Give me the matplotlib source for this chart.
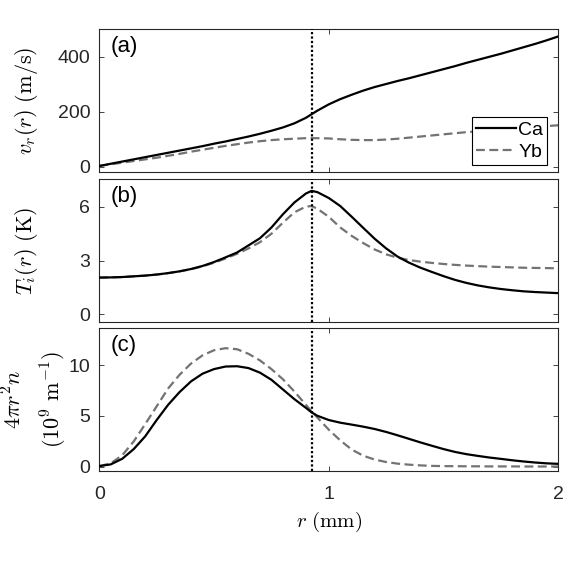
import numpy as np
import matplotlib.pyplot as plt

plt.rcParams['font.family'] = ['Liberation Sans', 'DejaVu Sans']
plt.rcParams['mathtext.fontset'] = 'cm'

# === 数据 ===
r = [0.0, 0.05, 0.1, 0.15, 0.2, 0.25, 0.3, 0.35, 0.4, 0.45, 0.5, 0.55, 0.6, 0.65,
     0.7, 0.75, 0.8, 0.85, 0.9, 0.925, 0.95, 1.0, 1.05, 1.1, 1.15, 1.2, 1.25, 1.3,
     1.35, 1.4, 1.45, 1.5, 1.55, 1.6, 1.65, 1.7, 1.75, 1.8, 1.85, 1.9, 1.95, 2.0]

v_ca = [3, 11, 19, 27, 35, 43, 51, 59, 67, 75, 84, 92, 101, 110,
        120, 131, 143, 158, 178, 191, 204, 227, 246, 262, 277, 290, 301, 312,
        322, 333, 344, 355, 366, 378, 389, 400, 411, 423, 435, 447, 460, 474]
v_yb = [3, 9, 15, 21, 27, 33, 40, 47, 55, 62, 69, 76, 82, 88,
        93, 97, 100, 102, 104, 104, 104, 103, 100, 98, 97, 97, 99, 102,
        106, 110, 114, 118, 122, 126, 129, 133, 136, 139, 142, 145, 148, 151]

t_ca = [2.05, 2.06, 2.08, 2.12, 2.16, 2.22, 2.3, 2.4, 2.53, 2.7, 2.92, 3.18, 3.45, 3.85,
        4.25, 4.85, 5.59, 6.25, 6.75, 6.9, 6.83, 6.5, 6.05, 5.45, 4.83, 4.22, 3.68, 3.22,
        2.88, 2.6, 2.36, 2.13, 1.92, 1.75, 1.61, 1.5, 1.41, 1.34, 1.28, 1.24, 1.21, 1.18]
t_yb = [2.05, 2.06, 2.08, 2.12, 2.16, 2.22, 2.3, 2.4, 2.52, 2.68, 2.88, 3.12, 3.38, 3.68,
        4.03, 4.5, 5.12, 5.7, 6.02, 6.05, 5.9, 5.45, 4.85, 4.38, 3.98, 3.62, 3.35, 3.16,
        3.03, 2.94, 2.87, 2.81, 2.76, 2.72, 2.69, 2.66, 2.64, 2.62, 2.6, 2.59, 2.58, 2.57]

n_ca = [0.08, 0.25, 0.8, 1.75, 3.0, 4.6, 6.1, 7.35, 8.4, 9.15, 9.6, 9.85, 9.88, 9.7,
        9.25, 8.55, 7.6, 6.65, 5.8, 5.35, 5.02, 4.6, 4.34, 4.15, 3.95, 3.72, 3.43, 3.1,
        2.75, 2.4, 2.07, 1.75, 1.47, 1.25, 1.08, 0.92, 0.79, 0.65, 0.53, 0.43, 0.35, 0.3]
n_yb = [0.08, 0.35, 1.15, 2.5, 4.2, 5.95, 7.7, 9.05, 10.15, 10.95, 11.45, 11.65, 11.55, 11.1,
        10.45, 9.6, 8.6, 7.4, 6.1, 5.45, 4.85, 3.65, 2.6, 1.7, 1.1, 0.72, 0.48, 0.32,
        0.22, 0.15, 0.1, 0.08, 0.07, 0.06, 0.06, 0.05, 0.05, 0.05, 0.04, 0.04, 0.04, 0.04]

r_mark = 0.928
series_labels = ['Ca', 'Yb']
panel_tags = ['(a)', '(b)', '(c)']
y_labels = [r'$v_r(r)\ \mathrm{(m/s)}$',
            r'$T_i(r)\ \mathrm{(K)}$',
            '$4\\pi r^2 n$\n$(10^9\\ \\mathrm{m}^{-1})$']
y_ticks = [[0, 200, 400], [0, 3, 6], [0, 5, 10]]
y_lims = [(-20, 500), (-0.45, 7.55), (-0.4, 13.6)]
x_ticks = [0, 1, 2]

# === 绘图 ===
fig = plt.figure(figsize=(5.76, 5.76), dpi=100)
ax_pos = [[0.1724, 0.7009, 0.7969, 0.2483],
          [0.1724, 0.4405, 0.7969, 0.2483],
          [0.1724, 0.1823, 0.7969, 0.2477]]
label_x = [-0.13, -0.13, -0.065]
data = [(v_ca, v_yb), (t_ca, t_yb), (n_ca, n_yb)]
grey = (0.45, 0.45, 0.45)
edge = '#262626'

axes = []
for i in range(3):
    ax = fig.add_axes(ax_pos[i])
    ca, yb = data[i]
    ax.plot(r, ca, color='black', lw=1.6, label=series_labels[0], zorder=3)
    ax.plot(r, yb, color=grey, lw=1.6, dashes=(4, 2), label=series_labels[1], zorder=2)
    ax.axvline(r_mark, color='black', lw=1.6, linestyle=(0, (1, 1)), zorder=4)

    ax.set_xlim(0, 2)
    ax.set_ylim(*y_lims[i])
    ax.set_xticks(x_ticks)
    ax.set_yticks(y_ticks[i])
    ax.tick_params(direction='in', top=True, right=True, length=3.5, width=0.6,
                   labelsize=14, colors=edge)
    ax.tick_params(axis='y', pad=6.5)
    ax.tick_params(axis='x', pad=11)
    for s in ax.spines.values():
        s.set_color(edge)
        s.set_linewidth(0.8)
    if i < 2:
        ax.tick_params(labelbottom=False)

    ax.text(0.025, 0.955, panel_tags[i], transform=ax.transAxes, ha='left', va='top',
            fontsize=16, color='black')
    ax.set_ylabel(y_labels[i], fontsize=16, linespacing=1.6)
    ax.yaxis.set_label_coords(label_x[i], 0.5)
    axes.append(ax)

axes[2].set_xlabel(r'$r\ \mathrm{(mm)}$', fontsize=15, labelpad=5)

leg = axes[0].legend(loc='lower right', bbox_to_anchor=(0.976, 0.05), borderaxespad=0,
                     fontsize=14, handlelength=2.1, handletextpad=0.1, labelspacing=0.25,
                     borderpad=0.2, fancybox=False, framealpha=1, edgecolor='black')
leg.get_frame().set_linewidth(0.8)

plt.savefig('out.png', dpi=100)
plt.close()
